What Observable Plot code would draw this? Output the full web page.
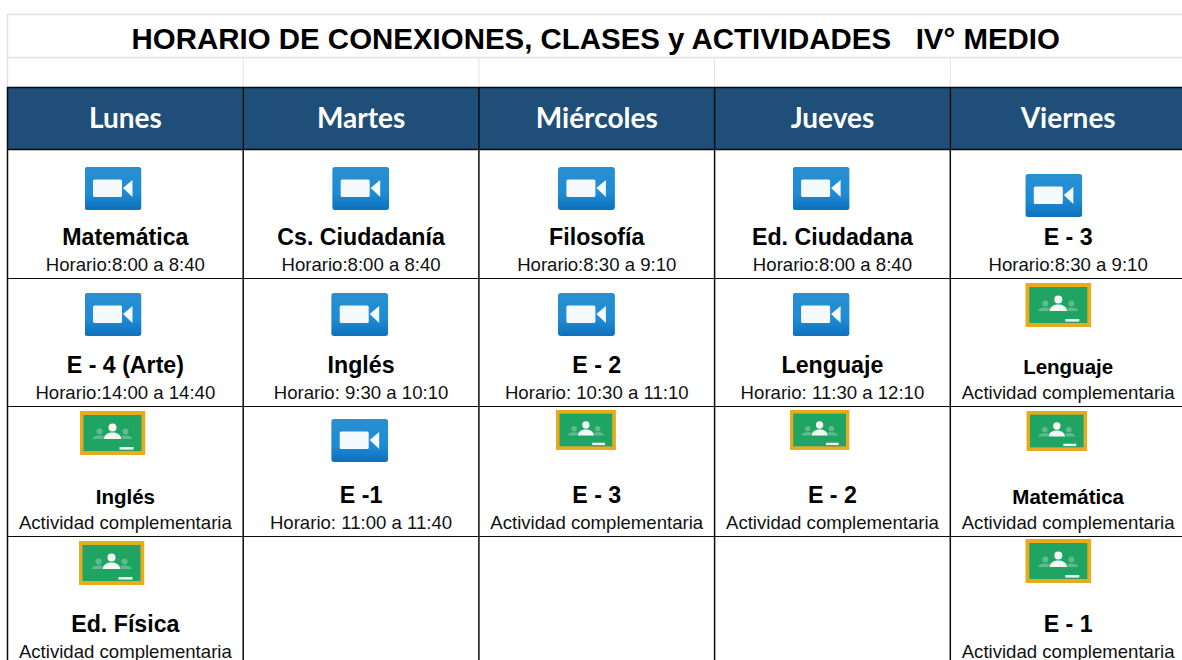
<!DOCTYPE html>
<html>
<head>
<meta charset="utf-8">
<script src="https://cdn.jsdelivr.net/npm/d3@7"></script>
<script src="https://cdn.jsdelivr.net/npm/@observablehq/plot@0.6"></script>
<style>html,body{margin:0;padding:0;background:#fff;overflow:hidden}</style>
</head>
<body>
<div id="chart"></div>
<script>
const title = "HORARIO DE CONEXIONES, CLASES y ACTIVIDADES\u00a0\u00a0\u00a0IV° MEDIO";
const days = ["Lunes", "Martes", "Miércoles", "Jueves", "Viernes"];
const ACT = "Actividad complementaria";

const rowConnect1 = ["Matemática", "Cs. Ciudadanía", "Filosofía", "Ed. Ciudadana", "E - 3"];
const timeConnect1 = ["Horario:8:00 a 8:40", "Horario:8:00 a 8:40", "Horario:8:30 a 9:10", "Horario:8:00 a 8:40", "Horario:8:30 a 9:10"];
const rowConnect2 = ["E - 4 (Arte)", "Inglés", "E - 2", "Lenguaje", "Lenguaje"];
const timeConnect2 = ["Horario:14:00 a 14:40", "Horario: 9:30 a 10:10", "Horario: 10:30 a 11:10", "Horario: 11:30 a 12:10", ACT];
const rowMixed = ["Inglés", "E -1", "E - 3", "E - 2", "Matemática"];
const timeMixed = [ACT, "Horario: 11:00 a 11:40", ACT, ACT, ACT];
const rowLast = ["Ed. Física", null, null, null, "E - 1"];
const timeLast = [ACT, null, null, null, ACT];
const minorSubjects = ["4:1", "4:2", "0:2"]; // "col:row" cells set in the smaller type

const subjects = [rowConnect1, rowConnect2, rowMixed, rowLast];
const times = [timeConnect1, timeConnect2, timeMixed, timeLast];
const cells = subjects.flatMap((r, row) => r.map((name, col) => ({
  col, row, name, time: times[row][col],
  kind: times[row][col] === ACT ? "classroom" : "meet",
  minor: minorSubjects.includes(col + ":" + row)
}))).filter(d => d.name);

// Layout of the sheet: row edges in sheet units (-3 title top ... 4 bottom of last row)
const rowEdge = d3.scaleLinear().domain([-3, -2, -1, 0, 1, 2, 3, 4]).range([14, 57, 87, 149, 278, 406, 536, 665]);
// icon box [left offset from column edge, top offset from row edge, w, h]
const iconBox = {
  "0:0":[77,18,57,43], "1:0":[89,18,57,43], "2:0":[79,18,57,43], "3:0":[78,18,57,43], "4:0":[75,25,57,43],
  "0:1":[77,15,57,43], "1:1":[88,15,57,43], "2:1":[79,15,57,43], "3:1":[78,15,57,43], "4:1":[75,5,66,44],
  "0:2":[72,5,66,44],  "1:2":[88,13,57,43], "2:2":[77,4,60,40],  "3:2":[75,4,60,40],  "4:2":[76,5,61,40],
  "0:3":[71,5,66,44],  "4:3":[75,3,66,44]
};
const colW = 235.7;
const icons = cells.map(d => {
  const [l, t, w, h] = iconBox[d.col + ":" + d.row];
  return {...d, x: d.col + (l + w / 2) / colW, y: rowEdge(d.row) + t + h / 2 - 0.5, w, h};
});

const meetIcon = "data:image/svg+xml," + encodeURIComponent(`<svg xmlns='http://www.w3.org/2000/svg' viewBox='0 0 57 43' preserveAspectRatio='none'><defs><linearGradient id='g' x1='0' y1='0' x2='0' y2='1'><stop offset='0' stop-color='#2a8fd0'/><stop offset='.6' stop-color='#1e8cd6'/><stop offset='1' stop-color='#0f6fbb'/></linearGradient></defs><rect width='57' height='43' rx='3' fill='url(#g)'/><rect x='8.5' y='12.5' width='29' height='17.5' rx='1.5' fill='#f4f9fc'/><path d='M38.5 21 L48 13 V30 Z' fill='#f4f9fc'/></svg>`);
const classIcon = "data:image/svg+xml," + encodeURIComponent(`<svg xmlns='http://www.w3.org/2000/svg' viewBox='0 0 66 44' preserveAspectRatio='none'><rect width='66' height='44' fill='#e7ab1c'/><rect x='4' y='4' width='58' height='36' fill='#1fa463'/><circle cx='33' cy='16.5' r='4' fill='#f4f8f4'/><path d='M24 28 C25 23 29 21.5 33 21.5 C37 21.5 41 23 42 28 Z' fill='#f4f8f4'/><circle cx='20' cy='20.5' r='3' fill='#62bb8f'/><circle cx='46' cy='20.5' r='3' fill='#62bb8f'/><path d='M13 28 C14 25 17 24.5 21 24.5 L25 25 C23.5 26 23 27 23 28 Z' fill='#62bb8f'/><path d='M53 28 C52 25 49 24.5 45 24.5 L41 25 C42.5 26 43 27 43 28 Z' fill='#62bb8f'/><rect x='40' y='36' width='14' height='2.6' fill='#f4f4f4'/></svg>`);

const sans = "'Liberation Sans', Arial, sans-serif";
const grey = "#e2e2e2", ink = "#0a0a0a";
const colEdges = d3.range(0, 6);
const Y = r => rowEdge(r);

const chart = Plot.plot({
  width: 1182, height: 660,
  margin: 0,
  x: {axis: null, domain: [0, 5], range: [7, 1185.5]},
  y: {axis: null, domain: [0, 660], range: [0, 660]},
  style: {background: "#fff"},
  marks: [
    // pale sheet grid above the table
    Plot.ruleY([-3, -2].map(Y), {stroke: grey, strokeWidth: 1.5, x1: 0, x2: 5}),
    Plot.ruleX(colEdges.slice(1), {stroke: grey, strokeWidth: 1, y1: Y(-2), y2: Y(-1)}),
    Plot.ruleX([0], {stroke: grey, strokeWidth: 1.5, y1: Y(-3), y2: Y(-1)}),
    // header band
    Plot.rect(days, {x1: (d, i) => i, x2: (d, i) => i + 1, y1: Y(-1), y2: Y(0), fill: "#1f4e79"}),
    // table lines
    Plot.ruleX(colEdges, {stroke: ink, strokeWidth: 1.5, y1: Y(-1), y2: Y(4)}),
    Plot.ruleY([-1, 0].map(Y), {stroke: ink, strokeWidth: 1.5, x1: 0, x2: 5}),
    Plot.ruleY([1, 2, 3].map(Y), {stroke: ink, strokeWidth: 1.2, x1: 0, x2: 5}),
    // title
    Plot.text([title], {x: 2.5, y: Y(-2.5), dx: -1, dy: 4, text: d => d, fontFamily: sans, fontWeight: "bold", fontSize: 29.45, fill: "#000"}),
    // headers
    Plot.text(days, {x: (d, i) => i + 0.5, y: Y(-0.5), dy: 1, text: d => d, fontFamily: "Lato", fontWeight: "bold", fontSize: 28, fill: "#fff"}),
    // icons
    Plot.image(icons.filter(d => d.kind === "meet"), {x: "x", y: "y", width: "w", height: "h", src: meetIcon, preserveAspectRatio: "none"}),
    Plot.image(icons.filter(d => d.kind === "classroom"), {x: "x", y: "y", width: "w", height: "h", src: classIcon, preserveAspectRatio: "none"}),
    // subjects and times
    Plot.text(cells.filter(d => !d.minor), {x: d => d.col + 0.5, y: d => Y(d.row + 1), dy: -41, text: "name", fontFamily: sans, fontWeight: "bold", fontSize: 23.2, fill: "#000"}),
    Plot.text(cells.filter(d => d.minor), {x: d => d.col + 0.5, y: d => Y(d.row + 1), dy: -39, text: "name", fontFamily: sans, fontWeight: "bold", fontSize: 20.5, fill: "#000"}),
    Plot.text(cells, {x: d => d.col + 0.5, y: d => Y(d.row + 1), dy: -13.5, text: "time", fontFamily: sans, fontSize: 18.6, fill: "#111"})
  ]
});
document.getElementById("chart").append(chart);
</script>
</body>
</html>
